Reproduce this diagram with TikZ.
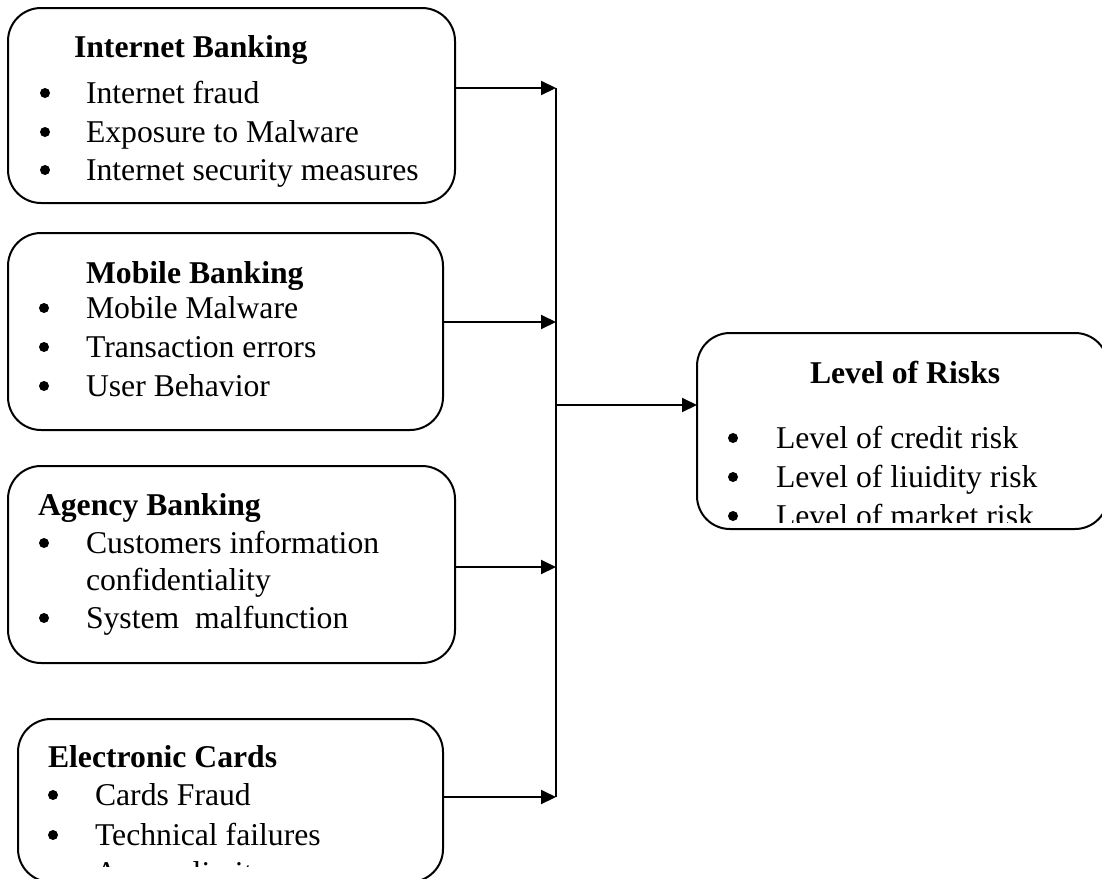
\documentclass[tikz,border=0pt]{standalone}
\usepackage{fontspec}
\setmainfont{Liberation Serif}
\usetikzlibrary{arrows.meta}
\tikzset{
  box/.style={draw, line width=2pt, rounded corners=33pt, inner sep=0pt, outer sep=0pt},
  txt/.style={anchor=base west, inner sep=0pt, outer sep=0pt, font=\fontsize{31.7}{38}\selectfont},
  ttl/.style={txt, font=\fontsize{31.7}{38}\selectfont\bfseries},
  bul/.style={fill=black},
  arr/.style={line width=2pt, -{Triangle[length=15pt,width=14pt]}},
  ln/.style={line width=2pt}
}
\begin{document}
\begin{tikzpicture}[x=1pt,y=-1pt]
\useasboundingbox (0,0) rectangle (1102,878);
\clip (0,0) rectangle (1102,878);
% boxes
\node[box, minimum width=447pt, minimum height=195pt] (b1) at (231.5,105.5) {};
\node[box, minimum width=435pt, minimum height=197pt] (b2) at (225.5,331.5) {};
\node[box, minimum width=447pt, minimum height=197pt] (b3) at (231.5,564.5) {};
\node[box, minimum width=425pt, minimum height=163pt] (b4) at (230.5,800.5) {};
\node[box, minimum width=411pt, minimum height=196pt] (risk) at (902.5,431) {};
% box 1
\node[ttl] (t10) at (74,57) {Internet Banking};
\fill[bul] (45,93) circle (5);
\node[txt] (t11) at (86,103) {Internet fraud};
\fill[bul] (45,132) circle (5);
\node[txt] (t12) at (86,142) {Exposure to Malware};
\fill[bul] (45,170) circle (5);
\node[txt] (t13) at (86,180) {Internet security measures};
% box 2
\node[ttl] (t20) at (86,283) {Mobile Banking};
\fill[bul] (44,308) circle (5);
\node[txt] (t21) at (86,318) {Mobile Malware};
\fill[bul] (44,347) circle (5);
\node[txt] (t22) at (86,357) {Transaction errors};
\fill[bul] (44,386) circle (5);
\node[txt] (t23) at (86,396) {User Behavior};
% box 3
\node[ttl] (t30) at (38,515) {Agency Banking};
\fill[bul] (44,543) circle (5);
\node[txt] (t31) at (86,553) {Customers information};
\node[txt] (t32) at (86,590) {confidentiality};
\fill[bul] (44,618) circle (5);
\node[txt] (t33) at (86,628) {System\ \ malfunction};
% box 4
\node[ttl] (t40) at (48,767) {Electronic Cards};
\fill[bul] (53,795) circle (5);
\node[txt] (t41) at (95,805) {Cards Fraud};
\fill[bul] (53,835) circle (5);
\node[txt] (t42) at (95,845) {Technical failures};
\begin{scope}
\clip (18,719) rectangle (443,866);
\fill[bul] (53,873) circle (5);
\node[txt] (t43) at (95,883) {Access limits};
\end{scope}
% risk box
\node[ttl] (t50) at (810,383) {Level of Risks};
\fill[bul] (733,438) circle (5);
\node[txt] (t51) at (776,448) {Level of credit risk};
\fill[bul] (733,477) circle (5);
\node[txt] (t52) at (776,487) {Level of liuidity risk};
\begin{scope}
\clip (697,333) rectangle (1108,522);
\fill[bul] (733,516) circle (5);
\node[txt] (t53) at (776,526) {Level of market risk};
\end{scope}
% connectors
\coordinate (j1) at (556,88);
\coordinate (j2) at (556,322);
\coordinate (j3) at (556,567);
\coordinate (j4) at (556,797);
\coordinate (jm) at (556,405);
\draw[arr] (b1.east |- j1) -- (j1);
\draw[arr] (b2.east |- j2) -- (j2);
\draw[arr] (b3.east |- j3) -- (j3);
\draw[arr] (b4.east |- j4) -- (j4);
\draw[ln] (j1) -- (j4);
\draw[arr] (jm) -- (risk.west |- jm);
\end{tikzpicture}
\end{document}
